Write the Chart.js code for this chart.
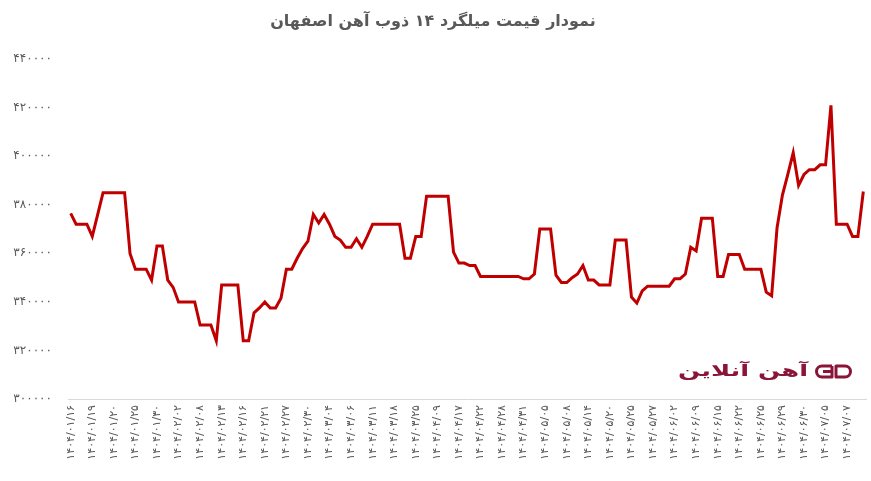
<!DOCTYPE html>
<html lang="fa">
<head>
    <meta charset="UTF-8">
    <title>نمودار قیمت میلگرد ۱۴ ذوب آهن اصفهان</title>
    <script src="https://cdn.jsdelivr.net/npm/chart.js"></script>
    <style>
        body { margin: 0; background: #fff; }
        #priceChart { display: block; }
    </style>
</head>
<body>
    <canvas id="priceChart" width="871" height="481"></canvas>

    <script>
        // tick labels shown under the axis, one every labelStep points
        const dates = [
            '۱۴۰۴/۰۱/۱۶', '۱۴۰۴/۰۱/۱۹', '۱۴۰۴/۰۱/۲۰', '۱۴۰۴/۰۱/۲۵', '۱۴۰۴/۰۱/۳۰', '۱۴۰۴/۰۲/۰۲',
            '۱۴۰۴/۰۲/۰۸', '۱۴۰۴/۰۲/۱۳', '۱۴۰۴/۰۲/۱۶', '۱۴۰۴/۰۲/۲۱', '۱۴۰۴/۰۲/۲۷', '۱۴۰۴/۰۲/۳۰',
            '۱۴۰۴/۰۳/۰۴', '۱۴۰۴/۰۳/۰۶', '۱۴۰۴/۰۳/۱۱', '۱۴۰۴/۰۳/۱۸', '۱۴۰۴/۰۳/۲۵', '۱۴۰۴/۰۴/۰۹',
            '۱۴۰۴/۰۴/۱۷', '۱۴۰۴/۰۴/۲۲', '۱۴۰۴/۰۴/۲۸', '۱۴۰۴/۰۴/۳۱', '۱۴۰۴/۰۵/۰۵', '۱۴۰۴/۰۵/۰۸',
            '۱۴۰۴/۰۵/۱۴', '۱۴۰۴/۰۵/۲۰', '۱۴۰۴/۰۵/۲۵', '۱۴۰۴/۰۵/۲۷', '۱۴۰۴/۰۶/۰۲', '۱۴۰۴/۰۶/۰۹',
            '۱۴۰۴/۰۶/۱۵', '۱۴۰۴/۰۶/۲۲', '۱۴۰۴/۰۶/۲۵', '۱۴۰۴/۰۶/۲۹', '۱۴۰۴/۰۶/۳۰', '۱۴۰۴/۰۷/۰۵',
            '۱۴۰۴/۰۷/۰۷'
        ];
        const labelStep = 4;

        // price per kg (rial), one value per trading day
        const prices = [
            376500, 372000, 372000, 372000, 367000, 376000, 385000, 385000, 385000, 385000,
            385000, 360000, 353500, 353500, 353500, 349000, 363000, 363000, 349000, 346000,
            340000, 340000, 340000, 340000, 330500, 330500, 330500, 324000, 347000, 347000,
            347000, 347000, 324000, 324000, 335500, 337500, 340000, 337500, 337500, 341500,
            353500, 353500, 358000, 362000, 365000, 376000, 372500, 376000, 372000, 367000,
            365500, 362500, 362500, 366000, 362500, 367000, 372000, 372000, 372000, 372000,
            372000, 372000, 358000, 358000, 367000, 367000, 383500, 383500, 383500, 383500,
            383500, 360500, 356000, 356000, 355000, 355000, 350500, 350500, 350500, 350500,
            350500, 350500, 350500, 350500, 349500, 349500, 351500, 370000, 370000, 370000,
            351000, 348000, 348000, 350000, 351500, 355000, 349000, 349000, 347000, 347000,
            347000, 365500, 365500, 365500, 342000, 339500, 344500, 346500, 346500, 346500,
            346500, 346500, 349500, 349500, 351500, 362500, 361000, 374500, 374500, 374500,
            350500, 350500, 359500, 359500, 359500, 353500, 353500, 353500, 353500, 344000,
            342500, 370500, 384000, 392500, 401500, 388000, 392500, 394500, 394500, 396500,
            396500, 421000, 372000, 372000, 372000, 367000, 367000, 385500
        ];

        const yMin = 300000;
        const yMax = 440000;
        const yStep = 20000;

        const FONT = '"DejaVu Sans", sans-serif';
        const GRAY = '#595959';
        const MAROON = '#8a1538';

        function toFa(n) {
            return String(n).replace(/\d/g, d => '۰۱۲۳۴۵۶۷۸۹'[d]);
        }

        // "آهن آنلاین" watermark in the lower right of the plot
        const logoPlugin = {
            id: 'logo',
            afterDraw(chart) {
                const ctx = chart.ctx;
                ctx.save();
                ctx.fillStyle = MAROON;
                ctx.font = 'bold 16px ' + FONT;
                ctx.textBaseline = 'alphabetic';
                const text = 'آهن آنلاین';
                const w = ctx.measureText(text).width;
                ctx.translate(678, 376);
                ctx.scale(130 / w, 1);
                ctx.textAlign = 'left';
                ctx.fillText(text, 0, 0);
                ctx.restore();

                // icon
                ctx.save();
                ctx.strokeStyle = MAROON;
                ctx.lineWidth = 3;
                ctx.lineJoin = 'round';
                ctx.beginPath();
                ctx.moveTo(832, 366);
                ctx.lineTo(822, 366);
                ctx.arc(822, 371.5, 5.5, -Math.PI / 2, Math.PI / 2, true);
                ctx.lineTo(832, 377);
                ctx.lineTo(832, 366);
                ctx.moveTo(823, 371.5);
                ctx.lineTo(832, 371.5);
                ctx.stroke();
                ctx.beginPath();
                ctx.moveTo(836, 366);
                ctx.lineTo(845, 366);
                ctx.arc(845, 371.5, 5.5, -Math.PI / 2, Math.PI / 2, false);
                ctx.lineTo(836, 377);
                ctx.closePath();
                ctx.stroke();
                ctx.restore();
            }
        };

        const ctx = document.getElementById('priceChart').getContext('2d');
        new Chart(ctx, {
            type: 'line',
            data: {
                datasets: [{
                    data: prices.map((p, i) => ({ x: i, y: p })),
                    borderColor: '#c00000',
                    borderWidth: 3,
                    pointRadius: 0,
                    tension: 0,
                    fill: false
                }]
            },
            options: {
                responsive: false,
                animation: false,
                layout: { padding: { left: 0, right: 5, top: 0, bottom: 0 } },
                plugins: {
                    legend: { display: false },
                    tooltip: { enabled: false },
                    title: {
                        display: true,
                        text: 'نمودار قیمت میلگرد ۱۴ ذوب آهن اصفهان',
                        color: GRAY,
                        font: { family: FONT, size: 16, weight: 'bold' },
                        padding: { top: 12, bottom: 28 }
                    }
                },
                scales: {
                    x: {
                        type: 'linear',
                        min: -0.5,
                        max: prices.length - 0.5,
                        afterBuildTicks: scale => {
                            scale.ticks = dates.map((d, i) => ({ value: i * labelStep }));
                        },
                        afterFit: scale => { scale.height = 82; },
                        ticks: {
                            autoSkip: false,
                            minRotation: 90,
                            maxRotation: 90,
                            padding: 6,
                            color: GRAY,
                            font: { family: FONT, size: 11 },
                            callback: value => dates[value / labelStep] || ''
                        },
                        grid: { display: false, drawTicks: false },
                        border: { display: true, color: '#d9d9d9', width: 1 }
                    },
                    y: {
                        min: yMin,
                        max: yMax,
                        afterFit: scale => { scale.width = 68; },
                        ticks: {
                            stepSize: yStep,
                            padding: 16,
                            color: GRAY,
                            font: { family: FONT, size: 12 },
                            callback: value => toFa(value)
                        },
                        grid: { display: false, drawTicks: false },
                        border: { display: false }
                    }
                }
            },
            plugins: [logoPlugin]
        });
    </script>
</body>
</html>
